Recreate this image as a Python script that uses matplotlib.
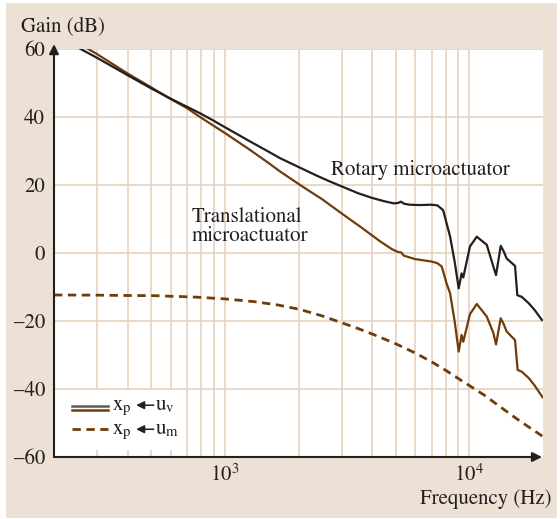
import numpy as np
import matplotlib
matplotlib.use('Agg')
import matplotlib.pyplot as plt
from matplotlib.patches import Rectangle
from matplotlib.ticker import NullLocator

plt.rcParams['font.family'] = ['STIXGeneral', 'DejaVu Serif']
plt.rcParams['mathtext.fontset'] = 'stix'

# ---- data ----
rot_f = [257, 300, 400, 500, 596, 700, 791, 900, 1000, 1268, 1500, 1680, 2000, 2400,
         2716, 3048, 3500, 4000, 4500, 4900, 5100, 5250, 5400, 5700, 6300, 7000,
         7400, 7810, 8070, 8340, 8700, 9040, 9290, 9440, 10050, 10720, 11780, 12530,
         12850, 13430, 13830, 14200, 15370, 15700, 16370, 17500, 18500, 19800]
rot_db = [60, 57.4, 52.3, 48.4, 45.5, 43.0, 41.1, 38.9, 37.0, 32.8, 29.9, 27.9, 25.3,
          22.6, 20.9, 19.4, 17.6, 16.2, 15.2, 14.6, 14.7, 15.1, 14.5, 14.2, 14.1, 14.2,
          14.0, 12.6, 8.7, 4.8, -2.5, -10.4, -6.0, -7.2, 1.9, 4.8, 2.4, -4.0,
          -6.5, 2.1, 0.4, -1.6, -3.8, -12.4, -12.9, -14.8, -16.8, -19.7]

trans_f = [276, 300, 400, 500, 596, 700, 791, 900, 1000, 1268, 1500, 1680, 2050, 2500,
           3048, 3600, 4300, 4800, 5100, 5250, 5400, 6000, 7000, 7400, 7710, 8070,
           8340, 8700, 9040, 9290, 9440, 10050, 10720, 11780, 12530, 12850, 13430,
           13830, 14200, 15370, 15750, 16370, 17500, 18500, 19900]
trans_db = [60, 58.5, 52.8, 48.7, 45.4, 42.6, 40.0, 37.4, 35.3, 30.3, 26.6, 24.0, 19.8,
            15.8, 11.3, 7.6, 3.5, 1.2, 0.3, 0.2, -0.8, -1.8, -2.5, -3.0, -4.0, -9.0,
            -11.9, -20.0, -29.0, -24.1, -26.1, -18.0, -15.0, -18.7, -23.5, -26.9, -19.2,
            -21.0, -23.1, -25.6, -34.4, -34.9, -36.8, -39.0, -42.4]

um_f = [200, 300, 400, 513, 650, 771, 1000, 1315, 1650, 2028, 2500, 3000, 3500, 4000,
        5000, 6000, 7000, 8000, 9000, 10000, 11500, 13340, 16000, 20000]
um_db = [-12.35, -12.4, -12.5, -12.55, -12.8, -13.0, -13.5, -14.3, -15.3, -16.6, -18.5,
         -20.5, -22.2, -23.8, -26.7, -29.4, -32.0, -34.5, -36.9, -39.0, -41.8, -45.2,
         -49.3, -54.0]

x_ticks = [1e3, 1e4]
x_ticklabels = [r'$10^3$', r'$10^4$']
y_ticks = [-60, -40, -20, 0, 20, 40, 60]
y_ticklabels = ['–60', '–40', '–20', '0', '20', '40', '60']
grid_f = [300, 400, 500, 600, 700, 800, 900, 1000, 2000, 3000, 4000, 5000,
          6000, 7000, 8000, 9000, 10000]
grid_db = [-40, -20, 0, 20, 40, 60]

BG = '#EDE0D4'
GRID = '#E6D2BD'
BLACK = '#231F20'
BROWN = '#6E3D08'
GRAY = '#5A5A5A'

fig = plt.figure(figsize=(5.6, 5.19), dpi=100, facecolor='white')
fig.patches.append(Rectangle((6 / 560, 1 / 519), 551 / 560, 515 / 519,
                             transform=fig.transFigure, facecolor=BG,
                             edgecolor='none', zorder=-10))

ax = fig.add_axes([54 / 560, 62 / 519, 489 / 560, 408 / 519])
ax.set_facecolor('white')
ax.set_xscale('log')
ax.set_xlim(200, 20000)
ax.set_ylim(-60, 60)
for s in ax.spines.values():
    s.set_visible(False)

ax.set_xticks(x_ticks, x_ticklabels)
ax.xaxis.set_minor_locator(NullLocator())
ax.set_yticks(y_ticks, y_ticklabels)
ax.tick_params(length=0, labelsize=15, colors=BLACK)
ax.tick_params(axis='y', pad=6.5)
ax.tick_params(axis='x', pad=5.5)

ax.vlines(grid_f, -60, 60, color=GRID, lw=1.2, zorder=0)
ax.hlines(grid_db, 200, 20000, color=GRID, lw=1.2, zorder=0)

ax.plot(um_f, um_db, color=BROWN, lw=2.0, dashes=(3.0, 2.0), zorder=3)
ax.plot(trans_f, trans_db, color=BROWN, lw=1.6, zorder=4, solid_joinstyle='round')
ax.plot(rot_f, rot_db, color=BLACK, lw=1.6, zorder=5, solid_joinstyle='round')

# axis arrows
ax.annotate('', xy=(0, 1.012), xytext=(0, 0), xycoords='axes fraction',
            arrowprops=dict(arrowstyle='-|>', lw=1.5, color=BLACK,
                            mutation_scale=14, shrinkA=0, shrinkB=0), zorder=6)
ax.annotate('', xy=(0.998, 0), xytext=(0, 0), xycoords='axes fraction',
            arrowprops=dict(arrowstyle='-|>', lw=1.5, color=BLACK,
                            mutation_scale=14, shrinkA=0, shrinkB=0), zorder=6)

# annotations
ax.text(2716, 22.9, 'Rotary microactuator', fontsize=15, color=BLACK,
        ha='left', va='baseline', zorder=7)
ax.text(733, 9.2, 'Translational', fontsize=15, color=BLACK,
        ha='left', va='baseline', zorder=7)
ax.text(733, 3.6, 'microactuator', fontsize=15, color=BLACK,
        ha='left', va='baseline', zorder=7)

fig.text(21 / 560, 1 - 31.7 / 519, 'Gain (dB)', fontsize=15, color=BLACK,
         ha='left', va='baseline')
fig.text(551 / 560, 1 - 504.3 / 519, 'Frequency (Hz)', fontsize=15, color=BLACK,
         ha='right', va='baseline')

# legend (manual)
tA = ax.transAxes
ax.add_patch(Rectangle((0.029, 0.017), 0.233, 0.147, transform=tA,
                       facecolor='white', edgecolor='none', zorder=6))
ax.plot([0.036, 0.110], [0.126, 0.126], transform=tA, color=GRAY, lw=1.8, zorder=7)
ax.plot([0.036, 0.110], [0.115, 0.115], transform=tA, color=BROWN, lw=1.8, zorder=7)
ax.plot([0.036, 0.110], [0.068, 0.068], transform=tA, color=BROWN, lw=2.0,
        dashes=(3.0, 2.0), zorder=7)
for yb, ya, sub in [(0.115, 0.127, 'v'), (0.0556, 0.068, 'm')]:
    ax.text(0.119, yb, r'x$_\mathregular{p}$', transform=tA, fontsize=15,
            color=BLACK, ha='left', va='baseline', zorder=8)
    ax.annotate('', xy=(0.168, ya), xytext=(0.204, ya),
                xycoords='axes fraction',
                arrowprops=dict(arrowstyle='-|>', lw=1.1, color=BLACK,
                                mutation_scale=12, shrinkA=0, shrinkB=0), zorder=8)
    ax.text(0.207, yb, r'u$_\mathregular{%s}$' % sub, transform=tA, fontsize=15,
            color=BLACK, ha='left', va='baseline', zorder=8)

fig.savefig('out.png', dpi=100, facecolor='white')
